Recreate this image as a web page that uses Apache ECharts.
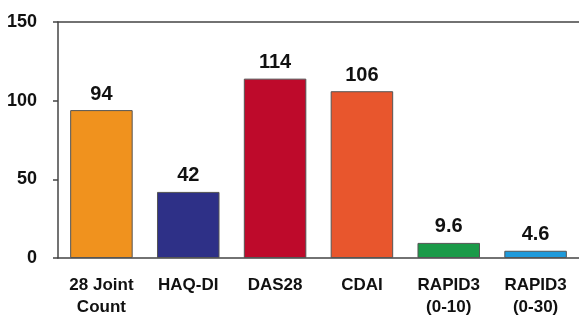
<!DOCTYPE html>
<html>
<head>
<meta charset="utf-8">
<script src="https://cdn.jsdelivr.net/npm/echarts@6/dist/echarts.min.js"></script>
<style>
  html, body { margin: 0; padding: 0; background: #fff; }
  #chart { width: 579px; height: 321px; }
</style>
</head>
<body>
<div id="chart"></div>
<script>
// Outcome measures and their values
const categories = ['28 Joint\nCount', 'HAQ-DI', 'DAS28', 'CDAI', 'RAPID3\n(0-10)', 'RAPID3\n(0-30)'];
const values = [94, 42, 114, 106, 9.6, 4.6];
const barColors = ['#F0921E', '#2E3087', '#BE0A2B', '#E8562D', '#1A9A48', '#1E9ADB'];
const yTicks = [0, 50, 100, 150];

const chart = echarts.init(document.getElementById('chart'), null, { renderer: 'canvas' });

const font = 'Liberation Sans, Arial, sans-serif';

chart.setOption({
  animation: false,
  grid: { left: 58, right: -4, top: 22, bottom: 63, containLabel: false },
  xAxis: [
    {
      type: 'category',
      data: categories,
      position: 'bottom',
      axisLine: { lineStyle: { color: '#444', width: 1.5 } },
      axisTick: { show: false },
      axisLabel: {
        color: '#111', fontFamily: font, fontWeight: 'bold', fontSize: 17,
        lineHeight: 22, margin: 16, interval: 0
      }
    },
    {
      type: 'category',
      data: categories,
      position: 'top',
      axisLine: { lineStyle: { color: '#444', width: 1.5 } },
      axisTick: { show: false },
      axisLabel: { show: false }
    }
  ],
  yAxis: {
    type: 'value',
    min: yTicks[0],
    max: yTicks[yTicks.length - 1],
    interval: 50,
    axisLine: { show: true, lineStyle: { color: '#444', width: 1.5 } },
    axisTick: { show: true, length: 5, lineStyle: { color: '#444', width: 1.5 } },
    splitLine: { show: false },
    axisLabel: {
      color: '#111', fontFamily: font, fontWeight: 'bold', fontSize: 18, margin: 21
    }
  },
  series: [{
    type: 'bar',
    barWidth: '72%',
    data: values.map((v, i) => ({
      value: v,
      itemStyle: { color: barColors[i], borderColor: '#555', borderWidth: 1 }
    })),
    label: {
      show: true,
      position: 'top',
      distance: 6,
      color: '#111',
      fontFamily: font,
      fontWeight: 'bold',
      fontSize: 20
    }
  }]
});
</script>
</body>
</html>
